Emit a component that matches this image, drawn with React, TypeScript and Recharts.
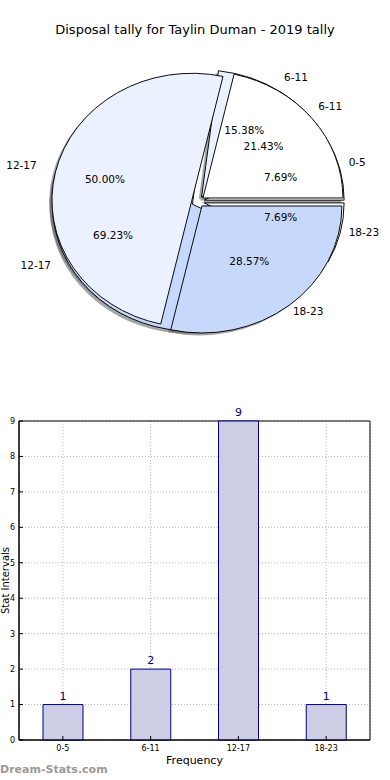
import {
  PieChart,
  Pie,
  Cell,
  BarChart,
  Bar,
  XAxis,
  YAxis,
  CartesianGrid,
  LabelList,
  ReferenceArea,
} from "recharts"

const TITLE = "Disposal tally for Taylin Duman - 2019 tally"

// pie underneath + bar chart
const intervals = ["0-5", "6-11", "12-17", "18-23"]
const disposalCounts = [1, 2, 9, 1]

// pie drawn on top
const overlayIntervals = ["6-11", "12-17", "18-23"]
const overlayCounts = [3, 7, 4]

const yTicks = [0, 1, 2, 3, 4, 5, 6, 7, 8, 9]

const WHITE = "#ffffff"
const LAVENDER = "#ebf1fe"
const LIGHT_BLUE = "#c6d9fd"
const PIE_COLORS = [WHITE, LAVENDER, LIGHT_BLUE]
const BAR_FILL = "#cdcde6"
const NAVY = "#000080"
const GRID_COLOR = "#b4b4b4"
const FONT = "'DejaVu Sans', Verdana, sans-serif"

const PIE_CX = 193
const PIE_CY = 197
const PIE_RX = 140
const PIE_RY = 127
const SQUASH = PIE_RY / PIE_RX
const EXPLODE = 0.045
const SHADOW = 0.02

type Slice = { name: string; value: number }

type Wedge = {
  key: string
  data: Slice[]
  index: number
  color: string
  ox: number
  oy: number
}

function toSlices(names: string[], values: number[]): Slice[] {
  return names.map((name, i) => ({ name, value: values[i] }))
}

function buildWedges(key: string, names: string[], values: number[]): Wedge[] {
  const data = toSlices(names, values)
  const total = values.reduce((a, b) => a + b, 0)
  let acc = 0
  const out: Wedge[] = []
  values.forEach((v, i) => {
    const mid = ((acc + v / 2) / total) * 2 * Math.PI
    acc += v
    if (v <= 0) return
    out.push({
      key: `${key}-${i}`,
      data,
      index: i,
      color: PIE_COLORS[i % PIE_COLORS.length],
      ox: EXPLODE * PIE_RX * Math.cos(mid),
      oy: -EXPLODE * PIE_RX * Math.sin(mid),
    })
  })
  return out
}

const wedges = [
  ...buildWedges("tally", intervals, disposalCounts),
  ...buildWedges("overlay", overlayIntervals, overlayCounts),
]

const barData = intervals.map((name, i) => ({ name, count: disposalCounts[i] }))

function makeLabel(w: Wedge) {
  return (props: any) => {
    if (props.index !== w.index) return null
    const rad = (props.midAngle * Math.PI) / 180
    const cos = Math.cos(rad)
    const sin = Math.sin(rad)
    const baseX = PIE_CX + w.ox
    const baseY = PIE_CY + w.oy * SQUASH
    return (
      <g>
        <text
          x={baseX + 1.1 * PIE_RX * cos}
          y={baseY - 1.1 * PIE_RY * sin}
          textAnchor={cos >= 0 ? "start" : "end"}
          dominantBaseline="central"
          fontSize={10.5}
          fontFamily={FONT}
          fill="#000"
        >
          {props.name}
        </text>
        <text
          x={baseX + 0.6 * PIE_RX * cos}
          y={baseY - 0.6 * PIE_RY * sin}
          textAnchor="middle"
          dominantBaseline="central"
          fontSize={10.5}
          fontFamily={FONT}
          fill="#000"
        >
          {`${(props.percent * 100).toFixed(2)}%`}
        </text>
      </g>
    )
  }
}

export default function App() {
  return (
    <div
      style={{
        position: "absolute",
        left: 0,
        top: 0,
        width: 390,
        height: 780,
        background: "#fff",
        fontFamily: FONT,
      }}
    >
      <style>{`
        .pie-holder path.recharts-sector {
          transform-box: view-box;
          transform-origin: ${PIE_CX}px ${PIE_CY}px;
          transform: scaleY(${SQUASH});
        }
      `}</style>

      <div
        style={{
          position: "absolute",
          top: 22,
          left: 0,
          width: 390,
          textAlign: "center",
          fontSize: 13,
          lineHeight: "16px",
          color: "#000",
        }}
      >
        {TITLE}
      </div>

      <div className="pie-holder" style={{ position: "absolute", top: 0, left: 0 }}>
        <PieChart width={390} height={390}>
          {wedges.map((w) => (
            <Pie
              key={`shadow-${w.key}`}
              data={w.data}
              dataKey="value"
              nameKey="name"
              cx={PIE_CX + w.ox - SHADOW * PIE_RX}
              cy={PIE_CY + w.oy + SHADOW * PIE_RX}
              outerRadius={PIE_RX}
              startAngle={0}
              endAngle={360}
              isAnimationActive={false}
            >
              {w.data.map((_, i) => (
                <Cell
                  key={i}
                  fill={i === w.index ? "#4d4d4d" : "none"}
                  fillOpacity={0.5}
                  stroke="none"
                />
              ))}
            </Pie>
          ))}
          {wedges.map((w) => (
            <Pie
              key={w.key}
              data={w.data}
              dataKey="value"
              nameKey="name"
              cx={PIE_CX + w.ox}
              cy={PIE_CY + w.oy}
              outerRadius={PIE_RX}
              startAngle={0}
              endAngle={360}
              labelLine={false}
              label={makeLabel(w)}
              isAnimationActive={false}
            >
              {w.data.map((_, i) => (
                <Cell
                  key={i}
                  fill={i === w.index ? w.color : "none"}
                  stroke={i === w.index ? "#000" : "none"}
                  strokeWidth={1}
                />
              ))}
            </Pie>
          ))}
        </PieChart>
      </div>

      <div style={{ position: "absolute", top: 400, left: 0 }}>
        <BarChart
          width={390}
          height={380}
          data={barData}
          margin={{ top: 21, right: 20, left: 0, bottom: 0 }}
          barSize={40}
        >
          <CartesianGrid stroke={GRID_COLOR} strokeDasharray="1 2" />
          <XAxis
            dataKey="name"
            height={40}
            stroke="#000"
            tick={{ fontSize: 8, fill: "#000", fontFamily: FONT }}
            tickSize={-4}
            tickMargin={9}
            label={{
              value: "Frequency",
              position: "insideBottom",
              offset: 16,
              fontSize: 11,
              fill: "#000",
              fontFamily: FONT,
            }}
          />
          <YAxis
            width={19}
            domain={[0, 9]}
            ticks={yTicks}
            stroke="#000"
            tick={{ fontSize: 8, fill: "#000", fontFamily: FONT }}
            tickSize={-4}
            tickMargin={8}
            label={{
              value: "Stat Intervals",
              angle: -90,
              position: "insideLeft",
              offset: 5,
              fontSize: 10,
              fill: "#000",
              fontFamily: FONT,
              style: { textAnchor: "middle" },
            }}
          />
          <ReferenceArea y1={0} y2={9} fill="none" stroke="#000" strokeWidth={1} />
          <Bar
            dataKey="count"
            fill={BAR_FILL}
            stroke={NAVY}
            strokeWidth={1}
            isAnimationActive={false}
          >
            <LabelList
              dataKey="count"
              position="top"
              fill={NAVY}
              fontSize={11}
              fontFamily={FONT}
            />
          </Bar>
        </BarChart>
      </div>

      <div
        style={{
          position: "absolute",
          left: 0,
          top: 763,
          fontSize: 11,
          fontWeight: "bold",
          color: "#9a9a9a",
          lineHeight: "14px",
        }}
      >
        Dream-Stats.com
      </div>
    </div>
  )
}
